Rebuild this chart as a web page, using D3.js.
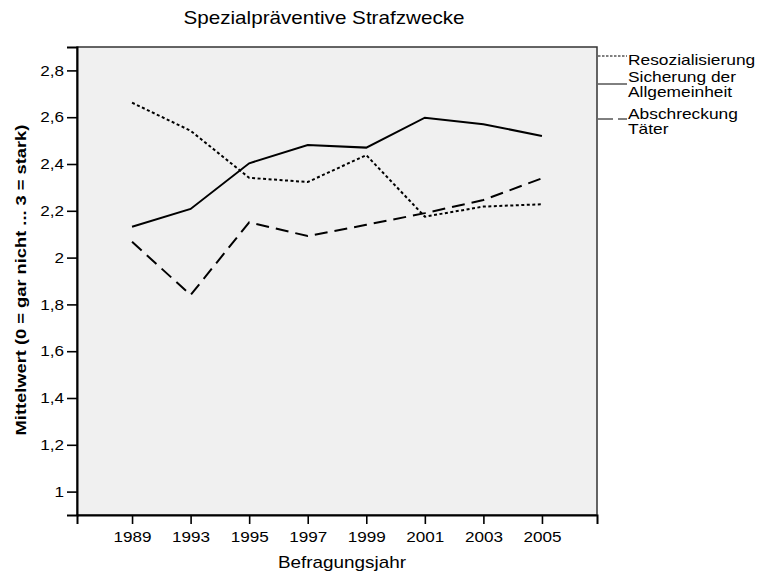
<!DOCTYPE html>
<html>
<head>
<meta charset="utf-8">
<script src="https://cdn.jsdelivr.net/npm/d3@7"></script>
<style>
  body { margin: 0; background: #fff; }
  text { font-family: "Liberation Sans", Arial, sans-serif; fill: #000; }
</style>
</head>
<body>
<div id="chart"></div>
<script>

// data
var years = ['1989', '1993', '1995', '1997', '1999', '2001', '2003', '2005'];
var resozialisierung = [2.662, 2.542, 2.341, 2.323, 2.438, 2.175, 2.218, 2.228];
var sicherung = [2.132, 2.208, 2.403, 2.481, 2.47, 2.598, 2.57, 2.52];
var abschreckung = [2.068, 1.840, 2.151, 2.092, 2.14, 2.19, 2.246, 2.339];
var y_ticks = [1, 1.2, 1.4, 1.6, 1.8, 2, 2.2, 2.4, 2.6, 2.8];
var legend_labels = [['Resozialisierung'], ['Sicherung der', 'Allgemeinheit'], ['Abschreckung', 'Täter']];

var width = 761;
var height = 575;

var plot_left = 77;
var plot_right = 597;
var plot_top = 47;
var plot_bottom = 515;

// the original text is a bit wider than Liberation Sans
var sx = 1.18;

var series = [
    {values: resozialisierung, dash: '3,2.5', legend_dash: '2.5,1.5'},
    {values: sicherung, dash: null, legend_dash: null},
    {values: abschreckung, dash: '13,7', legend_dash: '15,5'}
];

var svg = d3.select('#chart')
  .append('svg')
    .attr('width', width)
    .attr('height', height);

function add_text(g, str, x, y, size, anchor, rotate, stretch) {
    return g.append('text')
        .text(str)
        .attr('font-size', size + 'px')
        .style('text-anchor', anchor)
        .attr('transform', 'translate(' + x + ',' + y + ')'
            + (rotate ? ' rotate(' + rotate + ')' : '')
            + ' scale(' + (stretch || sx) + ',1)');
}

var x = d3.scalePoint()
    .domain(years)
    .range([plot_left, plot_right])
    .padding(0.94);

var y = d3.scaleLinear()
    .domain([0.9, 2.9])
    .range([plot_bottom, plot_top]);

// plot background
svg.append('rect')
    .attr('x', plot_left)
    .attr('y', plot_top)
    .attr('width', plot_right - plot_left)
    .attr('height', plot_bottom - plot_top)
    .attr('fill', '#f0f0f0')
    .attr('stroke', '#333')
    .attr('stroke-width', 1.5);

// y axis
var y_axis = svg.append('g')
    .attr('transform', 'translate(' + plot_left + ',0)')
    .call(d3.axisLeft(y)
        .tickValues(y_ticks)
        .tickSize(10)
        .tickPadding(3)
        .tickFormat(function(d) { return String(d).replace('.', ','); }));
y_axis.select('.domain').attr('stroke', '#000').attr('stroke-width', 2);
y_axis.selectAll('line').attr('stroke', '#000').attr('stroke-width', 1.6);
y_axis.selectAll('text')
    .attr('font-size', '14.5px')
    .attr('x', -13 / sx)
    .attr('transform', 'scale(' + sx + ',1)')
    .style('font-family', '"Liberation Sans", Arial, sans-serif');

// x axis
var x_axis = svg.append('g')
    .attr('transform', 'translate(0,' + plot_bottom + ')')
    .call(d3.axisBottom(x)
        .tickSize(9)
        .tickPadding(8));
x_axis.select('.domain').attr('stroke', '#000').attr('stroke-width', 2);
x_axis.selectAll('line').attr('stroke', '#000').attr('stroke-width', 1.6);
x_axis.selectAll('text')
    .attr('font-size', '14.5px')
    .attr('transform', 'scale(' + sx + ',1)')
    .style('font-family', '"Liberation Sans", Arial, sans-serif');

// lines
var line = d3.line()
    .x(function(d, i) { return x(years[i]); })
    .y(function(d) { return y(d); });

series.forEach(function(s) {
    svg.append('path')
        .datum(s.values)
        .attr('fill', 'none')
        .attr('stroke', '#000')
        .attr('stroke-width', 2)
        .attr('stroke-dasharray', s.dash)
        .attr('d', line);
});

// title
add_text(svg, 'Spezialpräventive Strafzwecke', 324, 24, 17.5, 'middle');

// x axis label
add_text(svg, 'Befragungsjahr', 342, 568, 16, 'middle');

// y axis label
add_text(svg, 'Mittelwert (0 = gar nicht ... 3 = stark)', 26, 280, 15.5, 'middle', -90)
    .attr('font-weight', 'bold');

// legend
var line_y = [56, 84, 119];
var text_y = [[65], [82, 97], [119, 134]];
var legend = svg.append('g');
legend_labels.forEach(function(lbl, i) {
    legend.append('line')
        .attr('x1', plot_right + 1)
        .attr('x2', 627)
        .attr('y1', line_y[i])
        .attr('y2', line_y[i])
        .attr('stroke', '#000')
        .attr('stroke-width', 1)
        .attr('stroke-dasharray', series[i].legend_dash);
    lbl.forEach(function(s, j) {
        add_text(legend, s, 628, text_y[i][j], 14, 'start', null, 1.24);
    });
});

</script>
</body>
</html>
